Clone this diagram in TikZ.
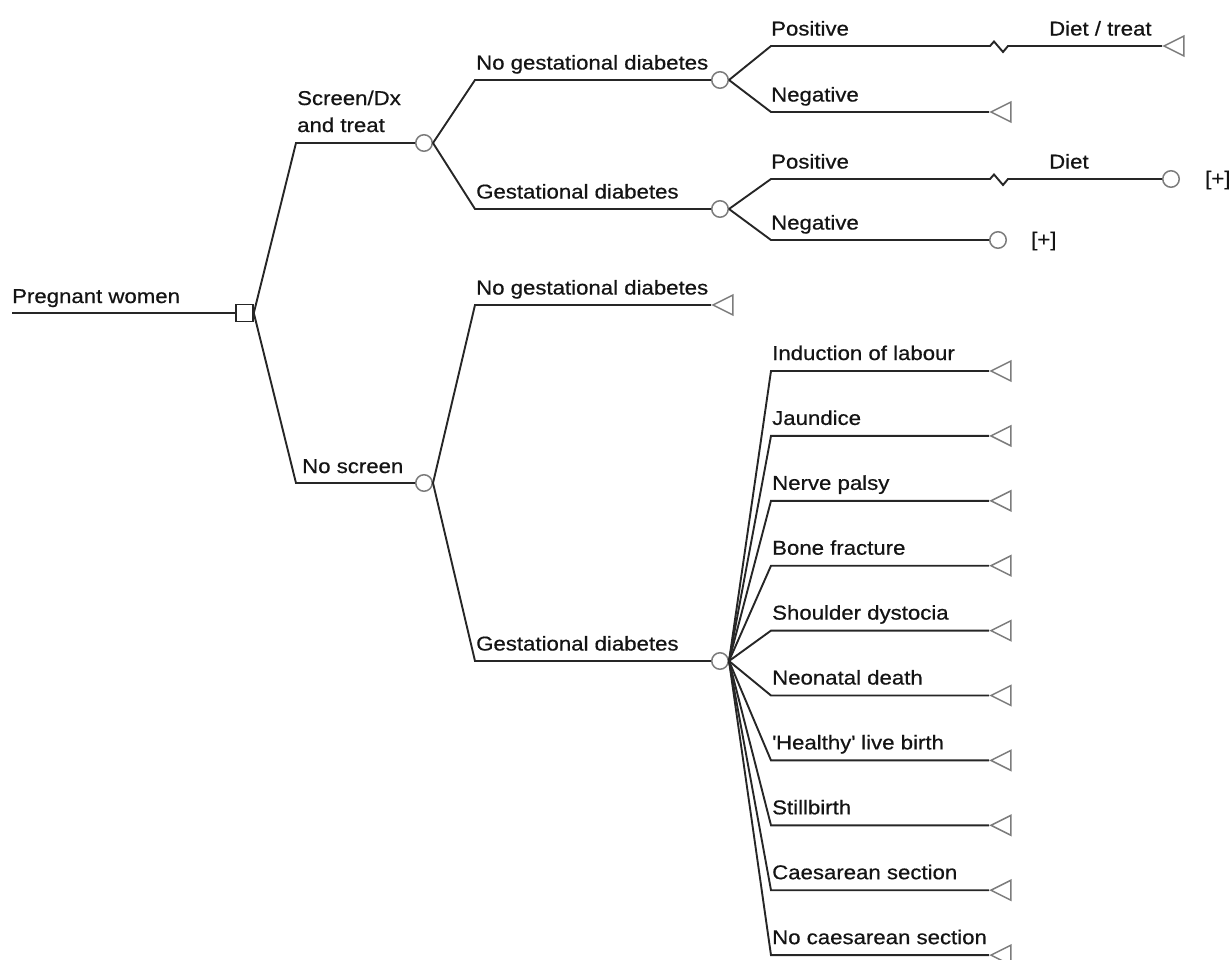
\documentclass[tikz,border=0pt]{standalone}
\usepackage{fontspec}
\newfontfamily\labfont{Liberation Sans}[FakeStretch=1.11,FakeBold=0.6]
\usetikzlibrary{shapes.geometric}
\definecolor{ln}{HTML}{262626}
\definecolor{sym}{HTML}{7C7C7C}
\tikzset{
  br/.style={draw=ln, line width=1.9pt, line join=miter},
  chance/.style={circle, draw=sym, fill=white, line width=1.5pt, minimum size=16.5pt, inner sep=0pt},
  decis/.style={rectangle, draw=ln, fill=white, line width=1.6pt, minimum size=17pt, inner sep=0pt},
  term/.style={isosceles triangle, shape border rotate=180, isosceles triangle stretches,
               minimum width=20pt, minimum height=20pt, draw=sym, line width=1.5pt, inner sep=0pt, anchor=apex},
  lab/.style={anchor=base west, inner sep=0pt, text=black!92, font=\labfont\fontsize{20}{26}\selectfont},
  plus/.style={anchor=west, inner sep=0pt, text=black!92, font=\labfont\fontsize{20}{26}\selectfont},
}
\begin{document}
\begin{tikzpicture}[x=1pt,y=-1pt]
\useasboundingbox (0,0) rectangle (1232,959);

% root and decision node
\coordinate (root) at (12,313);
\node[decis] (d) at (244.5,313) {};
\draw[br] (root) -- (d.west);
\node[lab] (lroot) at (12,303) {Pregnant women};

% Screen/Dx and treat
\coordinate (a1) at (296,143);
\node[chance] (c1) at (424,143) {};
\draw[br] (d.east) -- (a1) -- (c1.west);
\node[lab] (l1a) at (297,105) {Screen/Dx};
\node[lab] (l1b) at (297,132) {and treat};

% No gestational diabetes (screened)
\coordinate (a2) at (475,80);
\node[chance] (c2) at (720,80) {};
\draw[br] (c1.east) -- (a2) -- (c2.west);
\node[lab] (l2) at (476,69.5) {No gestational diabetes};

\coordinate (a3) at (771,46);
\coordinate (t1) at (1162,46);
\node[term] (tr1) at (t1) {};
\draw[br] (c2.east) -- (a3) -- (990,46) -- (994,41.5) -- (1003,52) -- (1008,46) -- (t1);
\node[lab] (l3) at (771,35.5) {Positive};
\node[lab] (l3b) at (1049,35.5) {Diet / treat};

\coordinate (a4) at (771,112);
\coordinate (t2) at (989,112);
\node[term] (tr2) at (t2) {};
\draw[br] (c2.east) -- (a4) -- (t2);
\node[lab] (l4) at (771,101.5) {Negative};

% Gestational diabetes (screened)
\coordinate (a5) at (475,209);
\node[chance] (c3) at (720,209) {};
\draw[br] (c1.east) -- (a5) -- (c3.west);
\node[lab] (l5) at (476,198.5) {Gestational diabetes};

\coordinate (a6) at (771,179);
\node[chance] (c4) at (1171,179) {};
\draw[br] (c3.east) -- (a6) -- (990,179) -- (994,174.5) -- (1003,185) -- (1008,179) -- (c4.west);
\node[lab] (l6) at (771,168.5) {Positive};
\node[lab] (l6b) at (1049,168.5) {Diet};
\node[plus] (p1) at (1205,180) {[+]};

\coordinate (a7) at (771,240);
\node[chance] (c5) at (998,240) {};
\draw[br] (c3.east) -- (a7) -- (c5.west);
\node[lab] (l7) at (771,229.5) {Negative};
\node[plus] (p2) at (1031,241) {[+]};

% No screen
\coordinate (a8) at (296,483);
\node[chance] (c6) at (424,483) {};
\draw[br] (d.east) -- (a8) -- (c6.west);
\node[lab] (l8) at (302,473) {No screen};

\coordinate (a9) at (475,305);
\coordinate (t3) at (711,305);
\node[term] (tr3) at (t3) {};
\draw[br] (c6.east) -- (a9) -- (t3);
\node[lab] (l9) at (476,294.5) {No gestational diabetes};

\coordinate (a10) at (475,661);
\node[chance] (c7) at (720,661) {};
\draw[br] (c6.east) -- (a10) -- (c7.west);
\node[lab] (l10) at (476,650.5) {Gestational diabetes};

% outcomes fan
\foreach \lbl [count=\i from 0] in {Induction of labour, Jaundice, Nerve palsy, Bone fracture,
    Shoulder dystocia, Neonatal death, {\textquotesingle Healthy\textquotesingle\ live birth},
    Stillbirth, Caesarean section, No caesarean section} {
  \pgfmathsetmacro{\yy}{371+64.9*\i}
  \coordinate (f\i) at (771,\yy);
  \coordinate (ft\i) at (989,\yy);
  \node[term] (ftr\i) at (ft\i) {};
  \draw[br] (c7.east) -- (f\i) -- (ft\i);
  \node[lab] (fl\i) at (772,\yy-11) {\lbl};
}
\end{tikzpicture}
\end{document}
